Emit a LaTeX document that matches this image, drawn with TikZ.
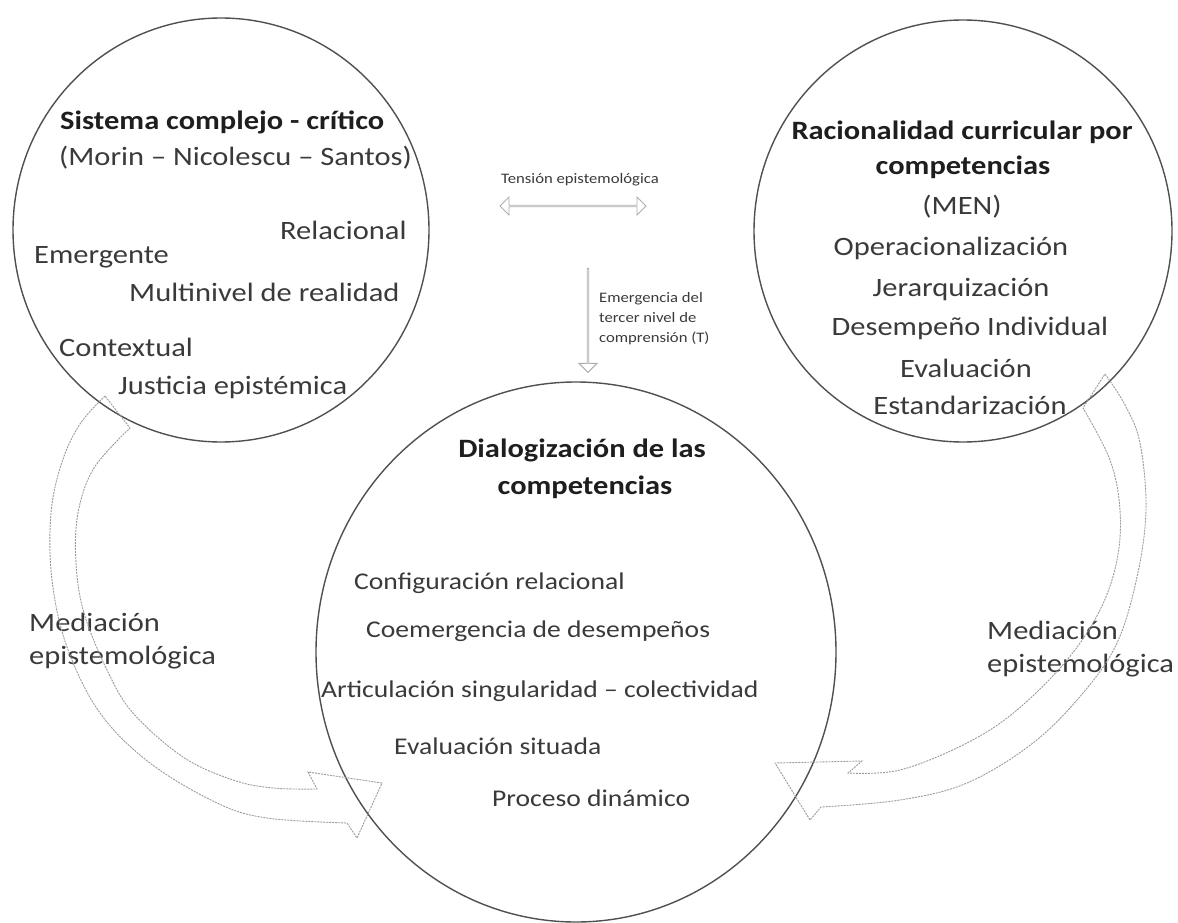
\documentclass[tikz,border=0pt]{standalone}
\usepackage{fontspec}
\setmainfont{Carlito}[FakeStretch=1.15]
\usetikzlibrary{shapes.geometric,shapes.arrows}
\definecolor{ink}{HTML}{3A3A3A}
\definecolor{inkb}{HTML}{1E1E1E}
\definecolor{ringc}{HTML}{505050}
\definecolor{arrc}{HTML}{9A9A9A}
\tikzset{
  ring/.style={draw=ringc, line width=1.4pt, ellipse, inner sep=0pt},
  lbl/.style={inner sep=0pt, text=ink, font=\fontsize{26.5}{30}\selectfont},
  lblb/.style={inner sep=0pt, text=ink, font=\fontsize{24}{28}\selectfont},
  ttl/.style={inner sep=0pt, text=inkb, font=\fontsize{26.5}{30}\selectfont\bfseries},
  small/.style={inner sep=0pt, text=ink, font=\fontsize{14.5}{20}\selectfont},
  curvarrow/.style={draw=arrc, line width=0.9pt, dash pattern=on 2pt off 1pt},
  blockarrow/.style={draw=arrc!80, line width=0.9pt, inner sep=0pt},
}
\begin{document}
\begin{tikzpicture}[x=1pt,y=-1pt]
\useasboundingbox (0,0) rectangle (1178,923);
% circles
\node[ring, minimum width=416pt, minimum height=424pt] (sys) at (221,230) {};
\node[ring, minimum width=418pt, minimum height=422pt] (rac) at (963,231) {};
\node[ring, minimum width=520pt, minimum height=540pt] (dia) at (576,652) {};

% left circle texts
\node[ttl, anchor=west] (s1) at (60,122) {Sistema complejo - crítico};
\node[lbl, anchor=west] (s2) at (59,158) {(Morin – Nicolescu – Santos)};
\node[lbl, anchor=west] (s3) at (280,230) {Relacional};
\node[lbl, anchor=west] (s4) at (34,257) {Emergente};
\node[lbl, anchor=west] (s5) at (129,292) {Multinivel de realidad};
\node[lbl, anchor=west] (s6) at (59,347) {Contextual};
\node[lbl, anchor=west] (s7) at (118,387) {Justicia epistémica};

% right circle texts
\node[ttl] (r1) at (962,132) {Racionalidad curricular por};
\node[ttl] (r2) at (963,167) {competencias};
\node[lbl] (r3) at (962,207) {(MEN)};
\node[lbl] (r4) at (951,248) {Operacionalización};
\node[lbl] (r5) at (961,290) {Jerarquización};
\node[lbl] (r6) at (970,328) {Desempeño Individual};
\node[lbl] (r7) at (966,368) {Evaluación};
\node[lbl] (r8) at (970,405) {Estandarización};

% bottom circle texts
\node[ttl] (d1) at (582,450) {Dialogización de las};
\node[ttl] (d2) at (585,487) {competencias};
\node[lblb, anchor=west] (d3) at (354,583) {Configuración relacional};
\node[lblb, anchor=west] (d4) at (366,631) {Coemergencia de desempeños};
\node[lblb, anchor=west] (d5) at (321,691) {Articulación singularidad – colectividad};
\node[lblb, anchor=west] (d6) at (394,746) {Evaluación situada};
\node[lblb, anchor=west] (d7) at (492,798) {Proceso dinámico};

% mediation labels
\node[lbl, anchor=west] (m1) at (29,622) {Mediación};
\node[lbl, anchor=west] (m2) at (29,658) {epistemológica};
\node[lbl, anchor=west] (m3) at (987,630) {Mediación};
\node[lbl, anchor=west] (m4) at (987,666) {epistemológica};

% tension arrow
\node[blockarrow, double arrow, minimum height=146pt, minimum width=18pt,
      double arrow head extend=5pt, double arrow head indent=0pt] (ten) at (573,206) {};
\node[small] (tenl) at (580,180) {Tensión epistemológica};

% emergence arrow
\node[blockarrow, single arrow, rotate=-90, minimum height=104pt, minimum width=18pt,
      single arrow head extend=5pt] (eme) at (588,320) {};
\node[small, anchor=north west, align=left] (emel) at (599,292)
  {Emergencia del\\tercer nivel de\\comprensión (T)};

% left curved arrow
\draw[curvarrow] plot[smooth, tension=0.6] coordinates {(105,396) (80,424) (62,462) (51,513) (52,580) (67,647) (100,713) (150,763) (217,803) (267,818) (347,823)}
  -- (357,838) -- (382,783) -- (308,772) -- (317,789)
  -- plot[smooth, tension=0.6] coordinates {(317,789) (273,788) (233,780) (183,757) (133,713) (107,670) (84,613) (76,563) (78,513) (94,468) (130,428)}
  -- cycle;

% right curved arrow
\draw[curvarrow] plot[smooth, tension=0.6] coordinates {(1105,374) (1125,405) (1140,443) (1146,510) (1137,577) (1117,643) (1083,693) (1033,743) (967,783) (900,800) (821,807)}
  -- (810,820) -- (775,763) -- (862,761) -- (848,773)
  -- plot[smooth, tension=0.6] coordinates {(848,773) (900,770) (967,743) (1017,710) (1067,660) (1100,610) (1117,560) (1120,510) (1110,460) (1083,408)}
  -- cycle;
\end{tikzpicture}
\end{document}
